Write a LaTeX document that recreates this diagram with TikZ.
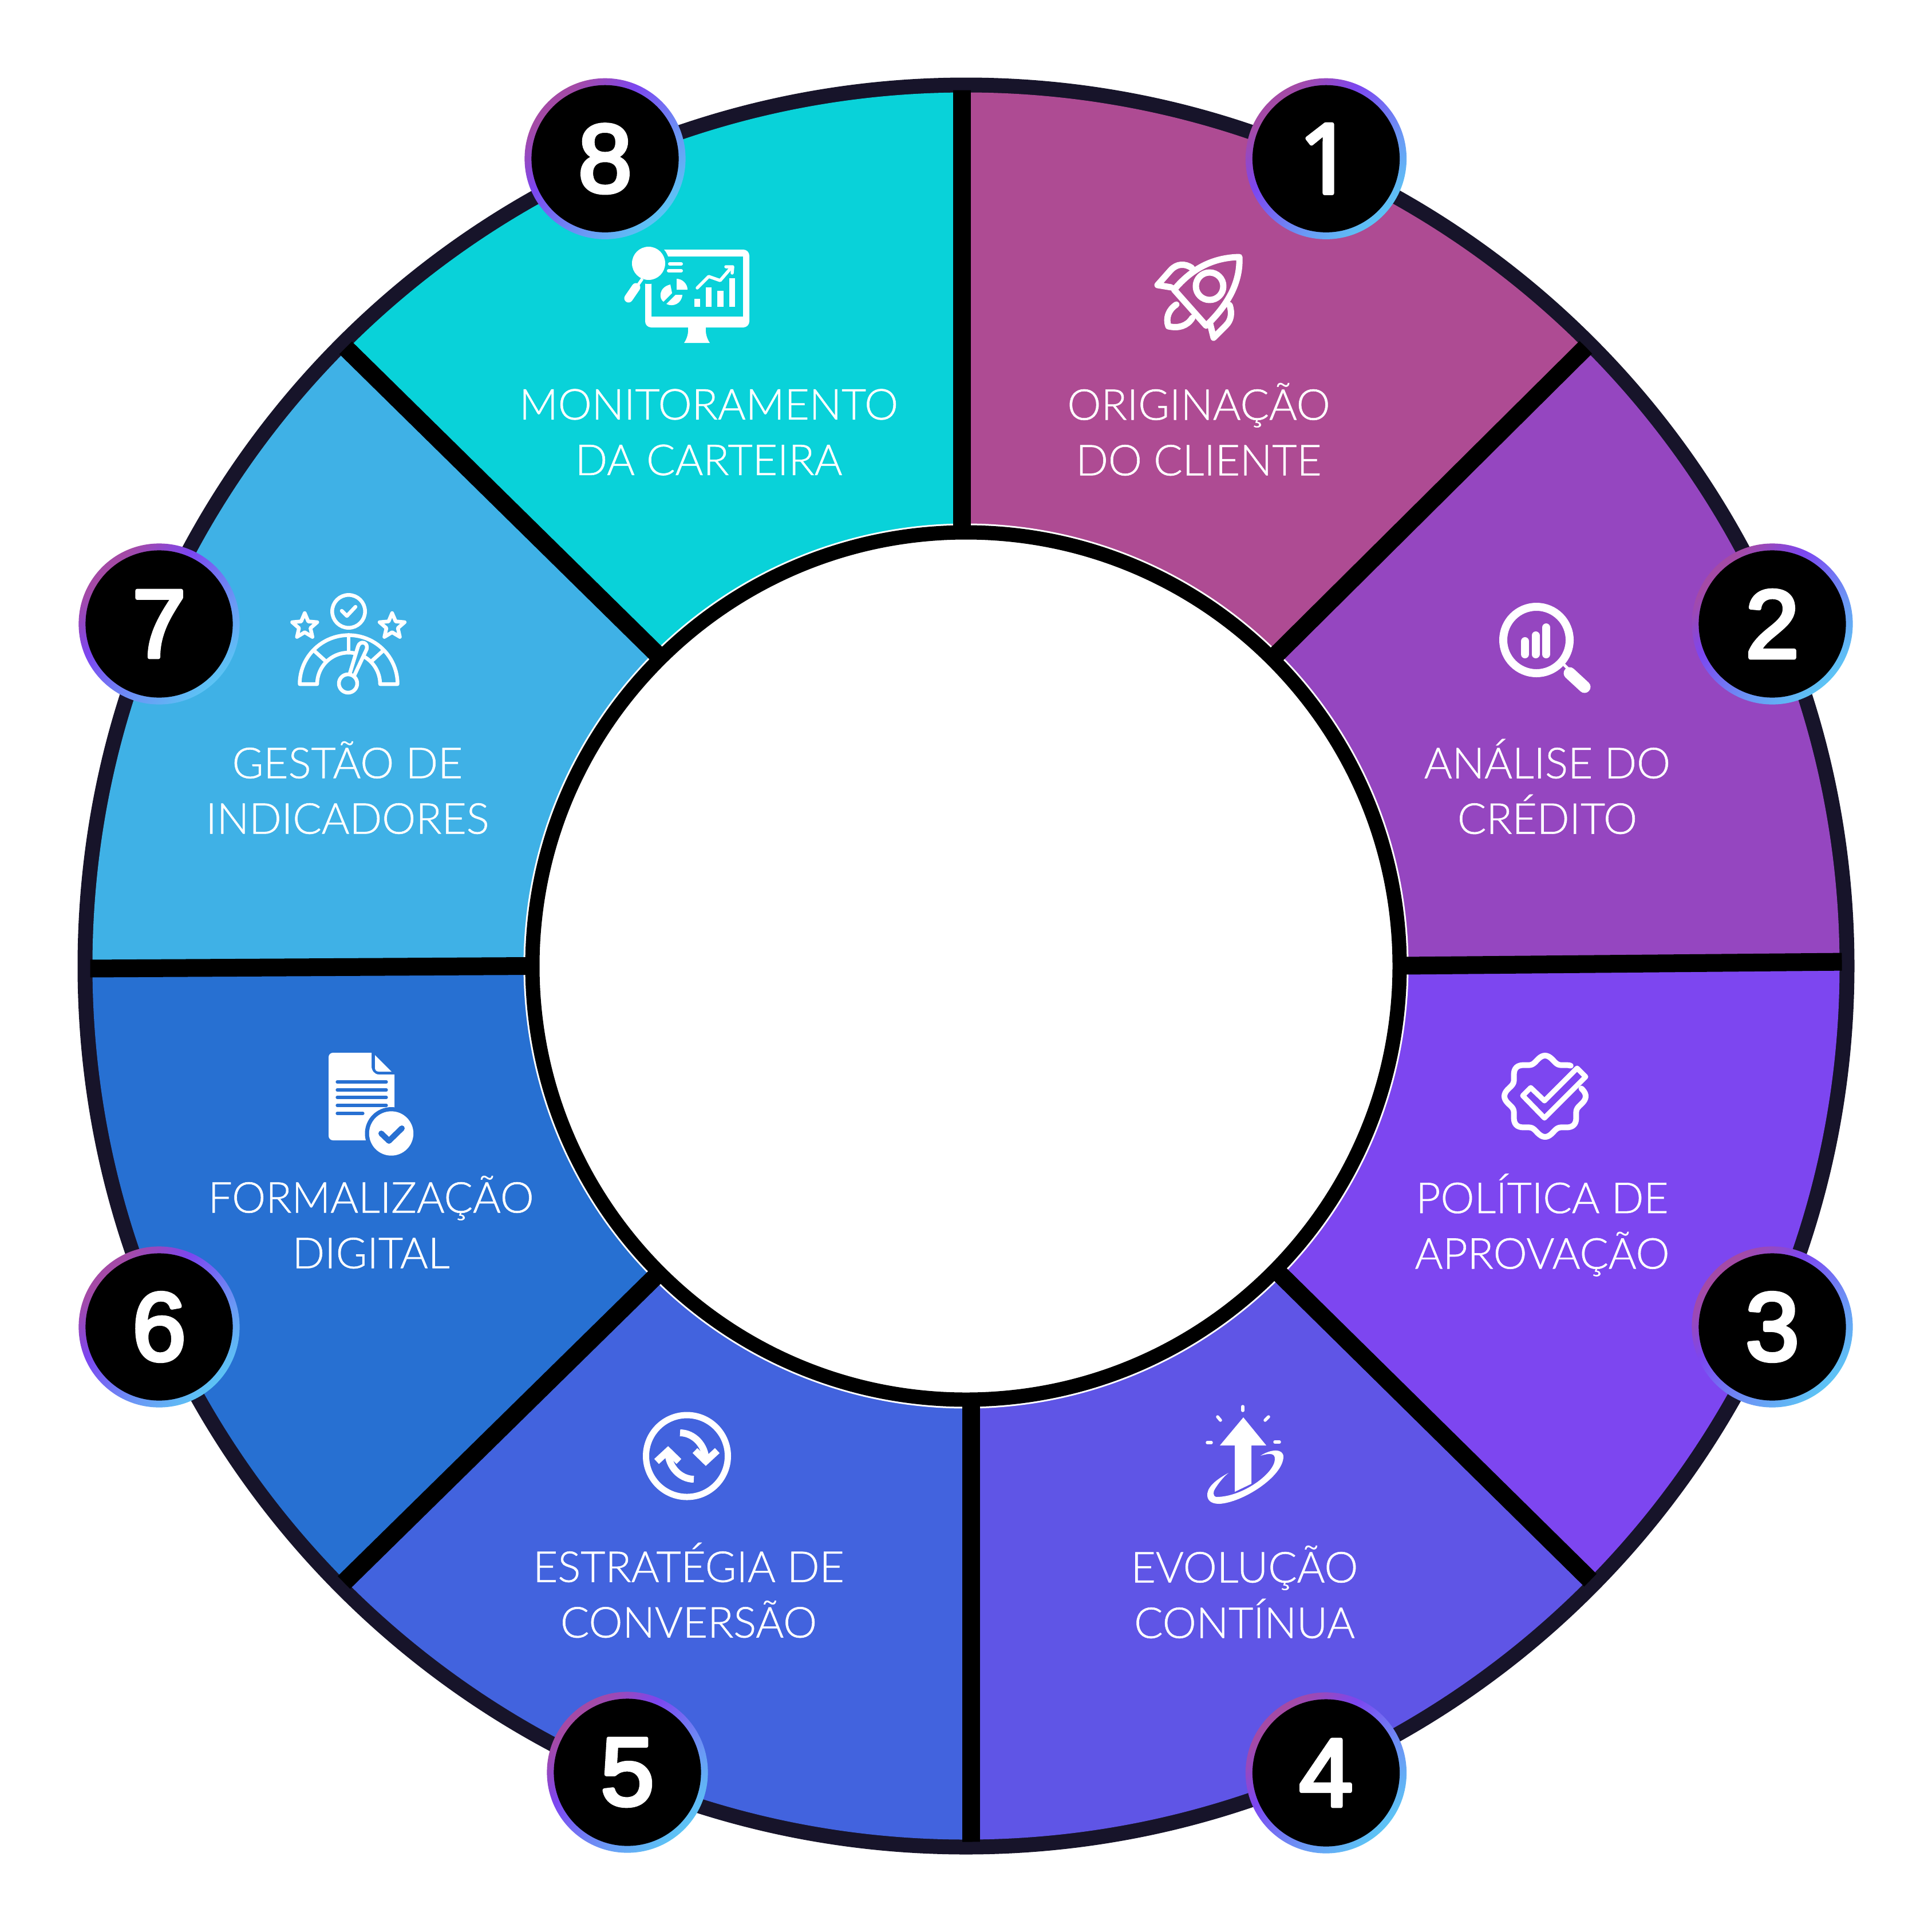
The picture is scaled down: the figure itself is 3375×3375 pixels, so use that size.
\documentclass[tikz,border=0pt]{standalone}
\usepackage{fontspec}
\newfontfamily\lab[UprightFont=* Light,FakeBold=0.8]{Lato}
\newfontfamily\digit[FakeBold=4]{Liberation Sans}
\newfontfamily\digitone[FakeBold=4]{Open Sans}
\definecolor{ringdark}{HTML}{17142A}
\definecolor{sa}{HTML}{AE4B93}
\definecolor{sb}{HTML}{9546C0}
\definecolor{sc}{HTML}{7D46F0}
\definecolor{sd}{HTML}{5F55E6}
\definecolor{se}{HTML}{4263DE}
\definecolor{sf}{HTML}{2770D2}
\definecolor{sg}{HTML}{3FB1E6}
\definecolor{sh}{HTML}{09D2D9}
\definecolor{gm}{HTML}{A44AA6}
\definecolor{gv}{HTML}{7C46F0}
\definecolor{gb}{HTML}{6A9AF5}
\definecolor{gc}{HTML}{5CC4F5}
\pgfdeclarehorizontalshading{badgeshade}{100bp}{color(0bp)=(gm);color(27bp)=(gm);color(41bp)=(gv);color(62bp)=(gb);color(75bp)=(gc);color(100bp)=(gc)}
\newcommand\starp[2]{plot[samples at={0,1,...,9},variable=\t]({#1+(mod(\t,2)==0?23:10.5)*sin(36*\t)},{#2-(mod(\t,2)==0?23:10.5)*cos(36*\t)})}
\tikzset{
  wd/.style={line width=#1*0.01cm},
  ico/.style={draw=white,line join=round,line cap=round},
  lbl/.style={text=white,align=center,inner sep=0pt,font=\lab\fontsize{21.2}{27.6}\selectfont},
  numbadge/.style={circle,fill=black,text=white,minimum size=2.57cm,inner sep=0pt,line join=round,font=\digit\fontsize{48}{48}\selectfont},
  divider/.style={draw=black,line width=0.31cm},
}
\begin{document}
\begin{tikzpicture}[x=0.01cm,y=-0.01cm]
\useasboundingbox (0,0) rectangle (3375,3375);
\fill[white] (0,0) rectangle (3375,3375);
\coordinate (c) at (1687.5,1687.5);
% ring
\fill[ringdark] (c) circle[radius=1552];
\begin{scope}
\clip (c) circle[radius=1526];
\fill[sa] (c) -- (1680,0) -- (3381,0) -- cycle;
\fill[sb] (c) -- (3381,0) -- (3375,1680) -- cycle;
\fill[sc] (c) -- (3375,1680) -- (3375,3360) -- cycle;
\fill[sd] (c) -- (3375,3360) -- (1696,3375) -- cycle;
\fill[se] (c) -- (1696,3375) -- (0,3375) -- cycle;
\fill[sf] (c) -- (0,3375) -- (0,1695) -- cycle;
\fill[sg] (c) -- (0,1695) -- (0,0) -- cycle;
\fill[sh] (c) -- (0,0) -- (1680,0) -- cycle;
\end{scope}
\fill[white] (c) circle[radius=773];
% dividers
\begin{scope}
\clip (c) circle[radius=1530];
\path[divider] (1680,145) -- (1680,930);
\path[divider] (1696,2440) -- (1696,3232);
\path[divider] (2450,1687) -- (3228,1680);
\path[divider] (150,1692) -- (925,1687.5);
\path[divider] (2215,1158) -- (2785,592);
\path[divider] (2222,2212) -- (2790,2772);
\path[divider] (1153,2222) -- (590,2775);
\path[divider] (1153,1148) -- (590,594);
\end{scope}
\draw[black,wd=25] (c) circle[radius=757.5];
% rocket icon
\begin{scope}[ico,wd=11]
\draw (2165,449) .. controls (2120,450) and (2083,468) .. (2051,506) -- (2107,569) .. controls (2148,530) and (2167,490) .. (2165,449);
\draw (2113,500) circle[radius=24];
\draw (2082,468) .. controls (2070,460) and (2056,460) .. (2045,472) -- (2022,498) -- (2046,502);
\draw (2148,533) .. controls (2153,548) and (2150,560) .. (2142,568) -- (2120,590) -- (2114,566);
\draw (2055,532) .. controls (2041,541) and (2036,556) .. (2041,570) .. controls (2058,574) and (2074,570) .. (2083,555);
\end{scope}
% magnifier with bars
\begin{scope}[ico,wd=14]
\draw (2684,1118) circle[radius=58];
\draw (2664,1120) -- (2664,1143);
\draw (2682.5,1110) -- (2682.5,1143);
\draw (2701,1096) -- (2701,1143);
\draw[wd=5] (2733,1162) -- (2746,1175);
\draw[wd=21] (2742,1176) -- (2768,1200);
\end{scope}
% seal check
\begin{scope}[ico,wd=10]
\draw plot[domain=-12:310,samples=130,variable=\t]({2699+(65.5+5.5*cos(8*\t))*cos(\t)},{1915+(65.5+5.5*cos(8*\t))*sin(\t)});
\draw[wd=9] (2674,1900) -- (2698,1923) -- (2755,1866) -- (2770,1881) -- (2698,1953) -- (2660,1914) -- cycle;
\end{scope}
% arrow with swoosh
\fill[white] (2172,2476) -- (2212,2525) -- (2186,2525) -- (2186,2592) -- (2157,2606) -- (2157,2525) -- (2131,2525) -- cycle;
\fill[white] (2146,2573) .. controls (2120,2587) and (2108,2600) .. (2109,2613) .. controls (2110,2624) and (2120,2627) .. (2130,2627) .. controls (2170,2625) and (2241,2580) .. (2242,2545) .. controls (2242,2530) and (2220,2531) .. (2202,2543) .. controls (2218,2538) and (2228,2538) .. (2227,2550) .. controls (2225,2575) and (2170,2615) .. (2125,2615) .. controls (2118,2614) and (2119,2605) .. (2123,2600) .. controls (2128,2592) and (2137,2580) .. (2146,2573) -- cycle;
\begin{scope}[ico,wd=5.5]
\draw (2171,2457) -- (2171,2464);
\draw (2127,2475) -- (2132,2481);
\draw (2216,2475) -- (2210,2481);
\draw (2109,2520) -- (2116,2520);
\draw (2227,2519) -- (2235,2519);
\end{scope}
% rotating arrows
\draw[white,wd=11] (1200,2543.5) circle[radius=71.5];
\begin{scope}[draw=white,wd=12]
\draw (1188,2503) .. controls (1212,2503) and (1233,2525) .. (1233,2552);
\draw[miter limit=4] (1214,2534) -- (1233,2552.5) -- (1253,2534);
\draw (1212,2584) .. controls (1188,2584) and (1167,2562) .. (1167,2535);
\draw[miter limit=4] (1186,2553) -- (1167,2534.5) -- (1147,2553);
\end{scope}
% document icon
\fill[white,rounded corners=2.2pt] (649,1839) -- (574,1839) -- (574,1992) -- (660,1992) [sharp corners] -- (689,1992) -- (689,1877) -- (662,1877) .. controls (654,1877) and (649,1870) .. (649,1862) -- cycle;
\fill[white,line join=round] (655,1843) -- (684,1872) -- (662,1872) .. controls (657,1872) and (655,1869) .. (655,1865) -- cycle;
\begin{scope}[draw=sf,wd=5.3,line cap=round]
\draw (589,1890) -- (675,1890);
\draw (589,1904) -- (675,1904);
\draw (589,1917) -- (675,1917);
\draw (589,1931) -- (675,1931);
\draw (589,1945) -- (634,1945);
\end{scope}
\fill[sf] (683.5,1980) circle[radius=46];
\fill[white] (683.5,1980) circle[radius=38.7];
\draw[sf,wd=10,line cap=round,line join=round] (666,1980) -- (679.5,1993) -- (702,1971);
% gauge icon
\begin{scope}[ico,wd=6.5]
\draw (609,1068) circle[radius=28.7];
\draw (597,1067) -- (606,1076) -- (621,1060);
\draw \starp{532.3}{1094} -- cycle;
\draw \starp{685}{1094} -- cycle;
\draw plot[domain=180:360,samples=48,variable=\t]({609+85.5*cos(\t)},{1195+85.5*sin(\t)}) -- plot[domain=360:180,samples=48,variable=\t]({609+55*cos(\t)},{1195+55*sin(\t)}) -- cycle;
\draw (609,1109) -- (609,1140);
\draw (548,1136) -- (570,1156);
\draw (670,1136) -- (648,1156);
\draw[fill=sg,wd=6.5] (610,1180) -- (625.5,1129) .. controls (629,1118) and (644,1122) .. (640.5,1134) -- (618,1182) -- cycle;
\path[fill=sg] (610,1180) -- (618,1182) -- (618,1190) -- (610,1190) -- cycle;
\draw[fill=sg] (608,1194) circle[radius=16];
\end{scope}
% monitor icon
\fill[white,even odd rule] [rounded corners=3pt] (1127,436) rectangle (1309,572) [sharp corners] (1138,448) rectangle (1298,553);
\fill[sh] (1133,460) circle[radius=36];
\fill[white] (1133,460) circle[radius=29];
\draw[white,wd=5] (1122,487) -- (1113,500);
\draw[white,wd=15,line cap=round] (1111,502) -- (1098,521);
\fill[white] (1202,572) .. controls (1203,582) and (1200,592) .. (1195,599) -- (1240,599) .. controls (1235,592) and (1232,582) .. (1233,572) -- cycle;
\draw[white,wd=6,line cap=round] (1170,461) -- (1190,461);
\draw[white,wd=6,line cap=round] (1168,473) -- (1190,473);
\fill[white] (1182,506) -- (1182,487) .. controls (1192,487) and (1201,496) .. (1201,506) -- cycle;
\fill[white] (1171,497) .. controls (1150,502) and (1151,522) .. (1159,527) -- (1174,512) -- cycle;
\fill[white] (1164,531) .. controls (1176,537) and (1191,530) .. (1192,515) -- (1180,515) -- cycle;
\fill[white] (1213,522) rectangle (1223,536);
\fill[white] (1233,502) rectangle (1243,536);
\fill[white] (1253,508) rectangle (1264,536);
\fill[white] (1274,486) rectangle (1284,536);
\draw[white,wd=5.5,line cap=round,line join=round] (1218,503) -- (1238,483) -- (1258,490) -- (1277,468);
\draw[white,wd=5.5,line cap=round,line join=round] (1268,466) -- (1280,466) -- (1279,477);
% badges
\foreach \n/\x/\y/\f in {1/2316.5/277.3/\digitone,2/3096/1090/\digit,3/3096/2318/\digit,4/2316.5/3097/\digit,5/1096/3096/\digit,6/278/2318/\digit,7/278/1090/\digit,8/1057/277.3/\digit}{
  \shade[shading=badgeshade,shading angle=-45] (\x,\y) circle[radius=140.6];
  \node[numbadge] (b\n) at (\x,\y) {\f\n};
}
% labels
\node[lbl] (t1) at (2094,750) {ORIGINAÇÃO\\DO CLIENTE};
\node[lbl] (t2) at (2703,1374) {ANÁLISE DO\\CRÉDITO};
\node[lbl] (t3) at (2694,2140) {POLÍTICA DE\\APROVAÇÃO};
\node[lbl] (t4) at (2174,2781) {EVOLUÇÃO\\CONTÍNUA};
\node[lbl] (t5) at (1203,2778) {ESTRATÉGIA DE\\CONVERSÃO};
\node[lbl] (t6) at (648,2135) {FORMALIZAÇÃO\\DIGITAL};
\node[lbl] (t7) at (607,1376) {GESTÃO DE\\INDICADORES};
\node[lbl] (t8) at (1238,755) {MONITORAMENTO\\DA CARTEIRA};
\end{tikzpicture}
\end{document}
